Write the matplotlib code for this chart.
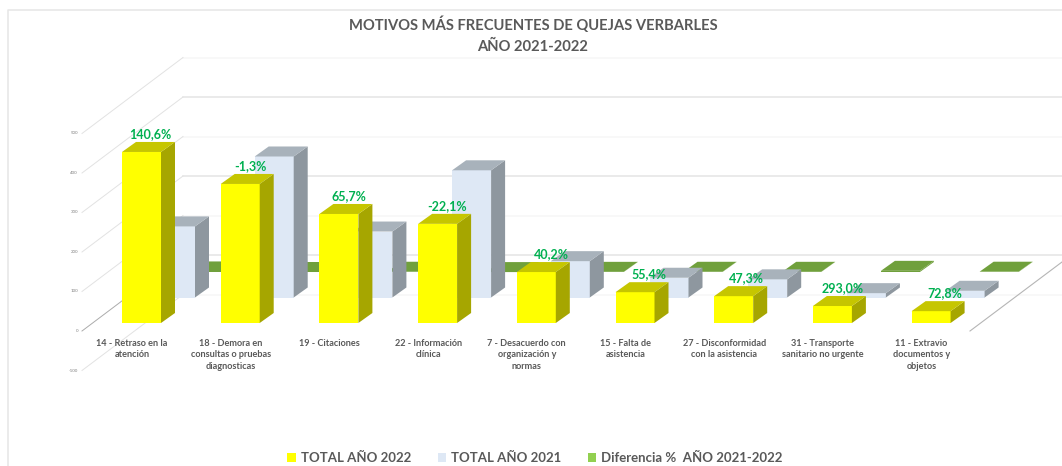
import matplotlib
matplotlib.use("Agg")
import matplotlib.pyplot as plt
from matplotlib.patches import Polygon, Rectangle, Patch

plt.rcParams["font.family"] = ["Lato", "DejaVu Sans"]

# Data
categories = [
    "14 - Retraso en la\natención",
    "18 - Demora en\nconsultas o pruebas\ndiagnosticas",
    "19 - Citaciones",
    "22 - Información\nclínica",
    "7 - Desacuerdo con\norganización y\nnormas",
    "15 - Falta de\nasistencia",
    "27 - Disconformidad\ncon la asistencia",
    "31 - Transporte\nsanitario no urgente",
    "11 - Extravio\ndocumentos y\nobjetos",
]
total_2022 = [433, 352, 276, 251, 129, 78, 68, 43, 30]
total_2021 = [180, 357, 167, 322, 92, 50, 46, 11, 17]
diferencia = [1.406, -0.013, 0.657, -0.221, 0.402, 0.554, 0.473, 2.93, 0.728]
diferencia_labels = ["140,6%", "-1,3%", "65,7%", "-22,1%", "40,2%", "55,4%", "47,3%", "293,0%", "72,8%"]
value_ticks = [-100, 0, 100, 200, 300, 400, 500]

GREY = "#595959"
LABEL_GREEN = "#00B050"

# pixels per category / per unit of value
SX = 98.7
SY = 0.395
W, H = 1062, 466
X0, Y0 = 122, 323  # pixel position of first bar, value 0

BAR_W = 39 / SX
DEPTH_X = 14 / SX
DEPTH_Y = 10 / SY
ROW_X = 34 / SX
ROW_Y = 25.5 / SY
WALL_X = 101 / SX
WALL_Y = 76 / SY
AXIS_X = (82 - X0) / SX
AXIS_DROP = 8 / SY  # the front edge of the floor sits below the bars
LEFT_NUDGE = [-3, -1, -1, -2, 4, 2, 1, -1, 2]

fig = plt.figure(figsize=(W / 100, H / 100), dpi=100)
ax = fig.add_axes([0, 0, 1, 1])
ax.set_xlim(-X0 / SX, (W - X0) / SX)
ax.set_ylim((Y0 - H) / SY, Y0 / SY)
ax.axis("off")

# Outer chart border
right = (W - X0) / SX
border_x = (8 - X0) / SX
border_top = (Y0 - 10) / SY
ax.plot([right, border_x, border_x], [border_top, border_top, (Y0 - H) / SY],
        color="#E6E6E6", lw=1.1, zorder=1)

# Walls and value axis
for k, v in enumerate(value_ticks):
    strong = k % 2 == 1
    col = "#E4E4E4" if strong else "#F6F6F6"
    y = v - AXIS_DROP
    ax.plot([AXIS_X + WALL_X, right], [y + WALL_Y, y + WALL_Y], color=col, lw=1.1, zorder=1)
    ob_col = "#ABABAB" if v == 0 else "#E2E2E2"
    ax.plot([AXIS_X, AXIS_X + WALL_X], [y, y + WALL_Y], color=ob_col, lw=0.7, zorder=1)
    ax.text(AXIS_X - 4 / SX, y, str(v), ha="right", va="center", fontsize=3.2, color="#7F7F7F")

# Right end of the floor
floor_x = (970 - X0) / SX
ax.plot([floor_x, floor_x + 92 / SX], [-AXIS_DROP, 69 / SY - AXIS_DROP], color="#B5B5B5", lw=0.8, zorder=1)


def draw_bar(i, value, row, front, side, top, zorder):
    x = i + row * ROW_X
    y = row * ROW_Y
    z = y + value
    if front:
        ax.add_patch(Rectangle((x, y), BAR_W, value, facecolor=front, edgecolor="none", zorder=zorder))
    ax.add_patch(Polygon([(x + BAR_W, y), (x + BAR_W + DEPTH_X, y + DEPTH_Y),
                          (x + BAR_W + DEPTH_X, z + DEPTH_Y), (x + BAR_W, z)],
                         facecolor=side, edgecolor="none", zorder=zorder))
    ax.add_patch(Polygon([(x, z), (x + BAR_W, z), (x + BAR_W + DEPTH_X, z + DEPTH_Y),
                          (x + DEPTH_X, z + DEPTH_Y)],
                         facecolor=top, edgecolor="none", zorder=zorder))


for i, v in enumerate(diferencia):
    draw_bar(i, v, 2, "#70A03C", "#70A03C", "#70A03C", 2)
for i, v in enumerate(total_2021):
    draw_bar(i, v, 1, "#DEE8F5", "#8E979F", "#A8B2BB", 3)
for i, v in enumerate(total_2022):
    draw_bar(i, v, 0, "#FFFF00", "#A6A600", "#C6C600", 4)

# Data labels above the front bars
for i, v in enumerate(total_2022):
    ax.text(i + (31 + LEFT_NUDGE[i]) / SX, v + DEPTH_Y + 8 / SY, diferencia_labels[i],
            ha="center", va="center", fontsize=9, fontweight="bold", color=LABEL_GREEN, zorder=6)

# Category labels
for i, name in enumerate(categories):
    ax.text(i + 10 / SX, -16 / SY, name, ha="center", va="top", fontsize=6.6,
            fontweight="bold", color=GREY, linespacing=1.35, zorder=6)

fig.text(533 / W, 1 - 35.5 / H, "MOTIVOS MÁS FRECUENTES DE QUEJAS VERBARLES\nAÑO 2021-2022",
         ha="center", va="center", fontsize=10.6, fontweight="bold", color=GREY, linespacing=1.6)

handles = [
    Patch(facecolor="#FFFF00", label="TOTAL AÑO 2022"),
    Patch(facecolor="#DEE8F5", label="TOTAL AÑO 2021"),
    Patch(facecolor="#92D050", label="Diferencia %  AÑO 2021-2022"),
]
leg = fig.legend(handles=handles, loc="center", bbox_to_anchor=(535 / W, 1 - 458 / H), ncol=3,
                 frameon=False, fontsize=9.5, handlelength=0.62, handleheight=0.62,
                 handletextpad=0.4, columnspacing=2.0, borderpad=0)
for t in leg.get_texts():
    t.set_color(GREY)
    t.set_fontweight("bold")

fig.savefig("out.png", dpi=100)
